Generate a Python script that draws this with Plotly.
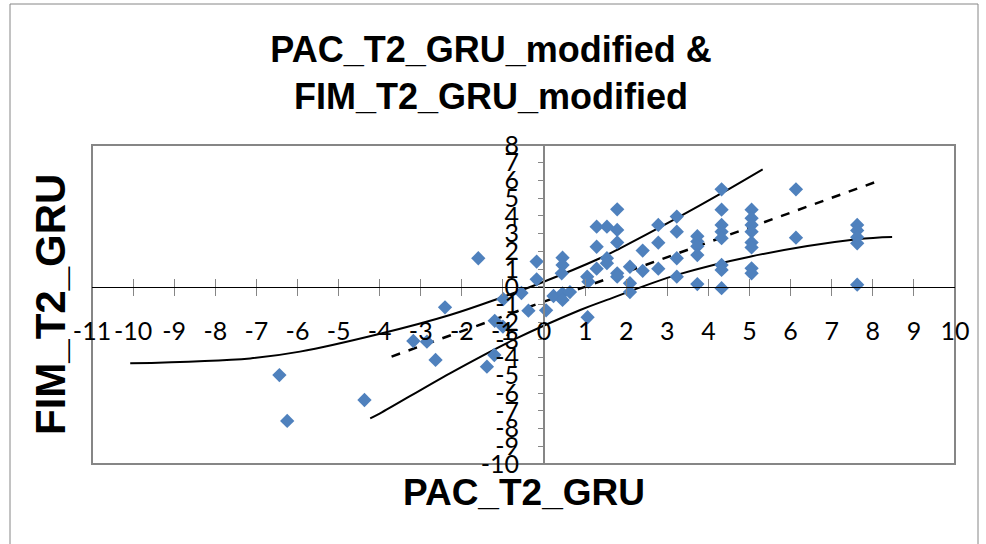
import plotly.graph_objects as go

# ---- data ----
pac_x = [-6.44, -6.25, -4.37, -3.18, -2.85, -2.64, -2.41, -1.60, -1.39, -1.21, -1.20, -1.00,
         -0.99, -0.55, -0.38, -0.18, -0.18, 0.05, 0.23, 0.45, 0.45, 0.43, 0.45, 0.45, 0.63,
         1.05, 1.08, 1.06,
         1.28, 1.28, 1.28,
         1.53, 1.53, 1.53,
         1.78, 1.78, 1.78, 1.78, 1.78,
         2.09, 2.09, 2.09,
         2.40, 2.40,
         2.78, 2.78, 2.78,
         3.23, 3.23, 3.23, 3.23,
         3.73, 3.73, 3.73, 3.73, 3.73,
         4.32, 4.32, 4.32, 4.32, 4.32, 4.32, 4.32, 4.32,
         5.05, 5.05, 5.05, 5.05, 5.05, 5.05, 5.05, 5.05,
         6.13, 6.13,
         7.62, 7.62, 7.62, 7.62, 7.62]
fim_y = [-4.98, -7.57, -6.39, -3.06, -3.10, -4.13, -1.16, 1.61, -4.51, -3.85, -1.92, -2.25,
         -0.70, -0.35, -1.35, 1.42, 0.42, -1.33, -0.52, 1.64, 1.23, 0.76, -0.37, -0.74, -0.30,
         0.57, 0.29, -1.72,
         3.39, 2.26, 1.02,
         3.39, 1.61, 1.33,
         4.37, 3.21, 2.50, 0.76, 0.57,
         1.13, 0.20, -0.30,
         2.04, 0.90,
         3.49, 2.49, 1.02,
         3.96, 3.11, 1.61, 0.57,
         2.85, 2.55, 2.28, 1.79, 0.15,
         5.50, 4.35, 3.49, 3.11, 2.74, 1.23, 0.95, -0.08,
         4.35, 3.87, 3.49, 3.11, 2.50, 2.22, 1.04, 0.76,
         5.50, 2.77,
         3.49, 3.18, 2.80, 2.45, 0.12]

trend_x = [-3.71, 8.16]
trend_y = [-3.94, 5.99]

upper_x = [-10.07, -7.15, -5.94, -3.99, -2.29, -1.07, -0.10, 1.36, 1.85, 3.23, 4.32, 5.32]
upper_y = [-4.32, -4.04, -3.66, -2.65, -1.59, -0.63, 0.20, 1.61, 2.17, 3.87, 5.28, 6.63]

lower_x = [-4.23, -3.99, -2.29, -0.75, 0.88, 1.53, 3.23, 5.01, 7.61, 8.47]
lower_y = [-7.42, -7.14, -4.88, -3.00, -1.31, -0.74, 0.67, 1.70, 2.68, 2.81]

x_ticks = list(range(-11, 11))
y_ticks = list(range(-10, 9))

title_text = "PAC_T2_GRU_modified &<br>FIM_T2_GRU_modified"
x_title = "PAC_T2_GRU"
y_title = "FIM_T2_GRU"

# ---- figure ----
W, H = 986, 544
L, R, T, B = 92, 31, 145, 80
XR = [-11, 10]
YR = [-10, 8]

tick_font = dict(family="Lato, Calibri, sans-serif", size=25, color="black")
title_font = "Liberation Sans, Arial, sans-serif"
gray = "#868686"

fig = go.Figure()
fig.add_trace(go.Scatter(x=upper_x, y=upper_y, mode="lines", line=dict(color="black", width=2, shape="spline"),
                         hoverinfo="skip", showlegend=False))
fig.add_trace(go.Scatter(x=lower_x, y=lower_y, mode="lines", line=dict(color="black", width=2, shape="spline"),
                         hoverinfo="skip", showlegend=False))
fig.add_trace(go.Scatter(x=trend_x, y=trend_y, mode="lines", line=dict(color="black", width=2.5, dash="dash"),
                         hoverinfo="skip", showlegend=False))
fig.add_trace(go.Scatter(x=pac_x, y=fim_y, mode="markers",
                         marker=dict(symbol="diamond", size=11, color="#4F81BD", line=dict(width=0)),
                         showlegend=False))
# invisible trace on the overlay axis so its ticks render
fig.add_trace(go.Scatter(x=[XR[0]], y=[YR[0]], xaxis="x2", mode="markers",
                         marker=dict(opacity=0), hoverinfo="skip", showlegend=False))

xpos = (0 - YR[0]) / (YR[1] - YR[0])
ypos = (0 - XR[0]) / (XR[1] - XR[0])

fig.update_layout(
    width=W, height=H,
    margin=dict(l=L, r=R, t=T, b=B, pad=0),
    paper_bgcolor="white", plot_bgcolor="white",
    title=dict(text="<b>" + title_text + "</b>", x=491 / W, xanchor="center", xref="container",
               y=1 - 62 / H, yanchor="middle", yref="container",
               font=dict(family=title_font, size=36, color="black")),
    xaxis=dict(range=XR, tickmode="array", tickvals=x_ticks, ticktext=[str(v) for v in x_ticks],
               anchor="free", position=xpos, showline=True, linecolor="black", linewidth=1,
               ticks="outside", ticklen=8, tickwidth=1, tickcolor=gray, ticklabelstandoff=14,
               showgrid=False, zeroline=False, tickfont=tick_font),
    xaxis2=dict(range=XR, overlaying="x", anchor="free", position=xpos, tickmode="array",
                tickvals=x_ticks, ticks="inside", ticklen=8, tickwidth=1, tickcolor=gray,
                showticklabels=False, showline=False, showgrid=False, zeroline=False),
    yaxis=dict(range=YR, tickmode="array", tickvals=y_ticks, ticktext=[str(v) for v in y_ticks],
               anchor="free", position=ypos, showline=True, linecolor=gray, linewidth=2,
               ticks="outside", ticklen=5, tickwidth=1, tickcolor=gray, ticklabelstandoff=14,
               showgrid=False, zeroline=False, tickfont=tick_font),
    shapes=[
        dict(type="rect", xref="paper", yref="paper", x0=0, x1=1, y0=0, y1=1,
             line=dict(color=gray, width=2), layer="below"),
        dict(type="rect", xref="paper", yref="paper",
             x0=(10 - L) / (W - L - R), x1=(978 - L) / (W - L - R),
             y0=-0.5, y1=(H - B - 4) / (H - T - B),
             line=dict(color=gray, width=1), layer="below"),
    ],
    annotations=[
        dict(text="<b>" + x_title + "</b>", xref="paper", yref="paper",
             x=(524 - L) / (W - L - R), y=(H - B - 492) / (H - T - B),
             xanchor="center", yanchor="middle", showarrow=False,
             font=dict(family=title_font, size=37, color="black")),
        dict(text="<b>" + y_title + "</b>", xref="paper", yref="paper", textangle=-90,
             x=(50 - L) / (W - L - R), y=(H - B - 305) / (H - T - B),
             xanchor="center", yanchor="middle", showarrow=False,
             font=dict(family=title_font, size=42, color="black")),
    ],
)

fig.write_html("out.html", config={"displayModeBar": False},
               post_script="document.body.style.margin='0px';")
